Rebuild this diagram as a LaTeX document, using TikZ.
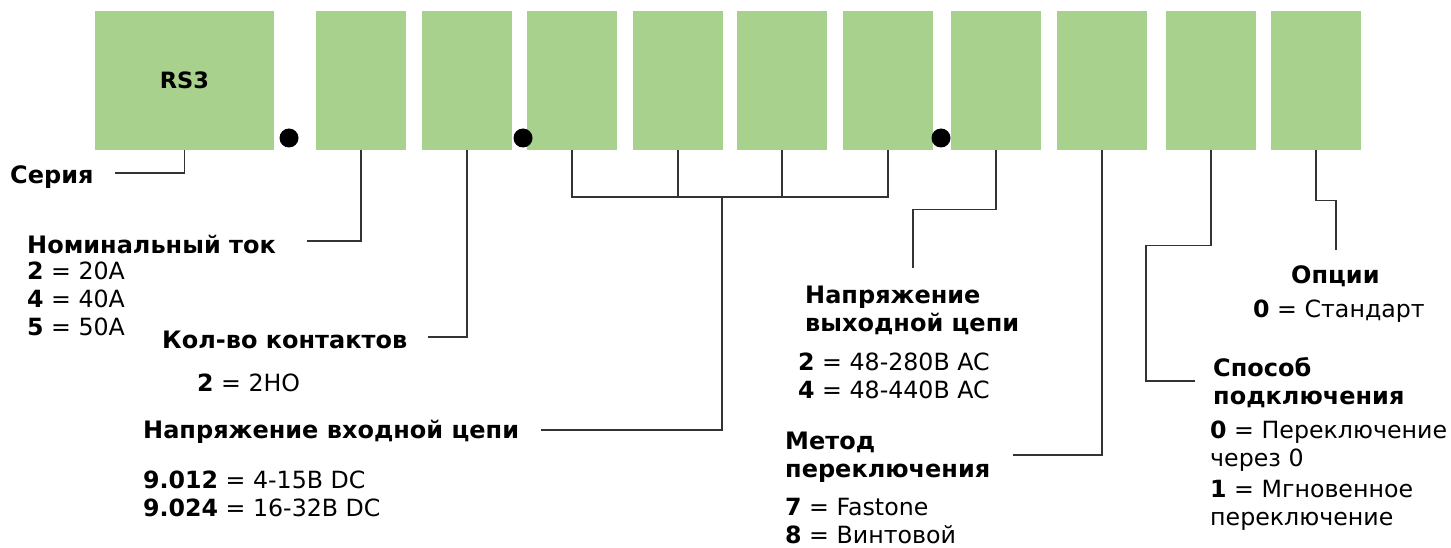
\documentclass[tikz,border=0pt]{standalone}
\usepackage{fontspec}
\setmainfont{DejaVu Sans}
\definecolor{boxgreen}{HTML}{A9D18E}
\definecolor{lineclr}{HTML}{333333}
\tikzset{
  cell/.style={rectangle, fill=boxgreen, draw=none, minimum height=139pt, inner sep=0pt},
  cellw/.style={cell, minimum width=179pt},
  celln/.style={cell, minimum width=90pt},
  sepdot/.style={circle, fill=black, draw=none, minimum size=19pt, inner sep=0pt},
  head/.style={inner sep=0pt, anchor=west, align=left, font=\fontsize{24}{28}\selectfont\bfseries},
  vals/.style={inner sep=0pt, anchor=west, align=left, font=\fontsize{23.7}{28}\selectfont},
  conn/.style={draw=lineclr, line width=1.3pt}
}
\begin{document}
\begin{tikzpicture}[x=1pt, y=-1pt]
\useasboundingbox (0,0) rectangle (1451,548);
% boxes
\node[cellw] (b1) at (184.5,80.5) {\fontsize{22.5}{28}\selectfont\bfseries RS3};
\node[celln] (b2) at (361,80.5) {};
\node[celln] (b3) at (467,80.5) {};
\node[celln] (b4) at (572,80.5) {};
\node[celln] (b5) at (678,80.5) {};
\node[celln] (b6) at (782,80.5) {};
\node[celln] (b7) at (888,80.5) {};
\node[celln] (b8) at (996,80.5) {};
\node[celln] (b9) at (1102,80.5) {};
\node[celln] (b10) at (1211,80.5) {};
\node[celln] (b11) at (1316,80.5) {};
% dots
\node[sepdot] (d1) at (289,138) {};
\node[sepdot] (d2) at (523,138) {};
\node[sepdot] (d3) at (941,138) {};
% labels
\node[head] (seria) at (10,177) {Серия};
\node[head] (nom) at (27,244) {Номинальный ток};
\node[vals] (nomv) at (27,299) {\textbf{2} = 20A\\\textbf{4} = 40A\\\textbf{5} = 50A};
\node[head] (kol) at (162,340) {Кол-во контактов};
\node[vals] (kolv) at (197,383) {\textbf{2} = 2НО};
\node[head] (vh) at (143,432) {Напряжение входной цепи};
\node[vals] (vhv) at (143,494) {\textbf{9.012} = 4-15В DC\\\textbf{9.024} = 16-32В DC};
\node[head] (vyh) at (805,310) {Напряжение\\выходной цепи};
\node[vals] (vyhv) at (798,375.5) {\textbf{2} = 48-280В AC\\\textbf{4} = 48-440В AC};
\node[head] (met) at (785,457) {Метод\\переключения};
\node[vals] (metv) at (785,521.5) {\textbf{7} = Fastone\\\textbf{8} = Винтовой};
\node[head] (spos) at (1213,383) {Способ\\подключения};
\node[vals] (sposv) at (1210,475.5) {\textbf{0} = Переключение\\через 0\\[3pt]\textbf{1} = Мгновенное\\переключение};
\node[head] (opc) at (1291,276) {Опции};
\node[vals] (opcv) at (1253,311) {\textbf{0} = Стандарт};
% connector end points
\coordinate (c1) at (115,173);
\coordinate (c2) at (307,241);
\coordinate (c3) at (428,337);
\coordinate (bus) at (722,197);
\coordinate (c4) at (541,430);
\coordinate (c8) at (913,268);
\coordinate (c9) at (1013,455);
\coordinate (k10) at (1146,381);
\coordinate (c10) at (1195,381);
\coordinate (c11) at (1336,250);
% connectors
\draw[conn] (b1.south) |- (c1);
\draw[conn] (b2.south) |- (c2);
\draw[conn] (b3.south) |- (c3);
\draw[conn] (b4.south) -- (b4.south |- bus) -- (b7.south |- bus) -- (b7.south);
\draw[conn] (b5.south) -- (b5.south |- bus);
\draw[conn] (b6.south) -- (b6.south |- bus);
\draw[conn] (bus) |- (c4);
\draw[conn] (b8.south) -- ++(0,59) -| (c8);
\draw[conn] (b9.south) |- (c9);
\draw[conn] (b10.south) -- ++(0,95) -| (k10) -- (c10);
\draw[conn] (b11.south) -- ++(0,50) -| (c11);
\end{tikzpicture}
\end{document}
